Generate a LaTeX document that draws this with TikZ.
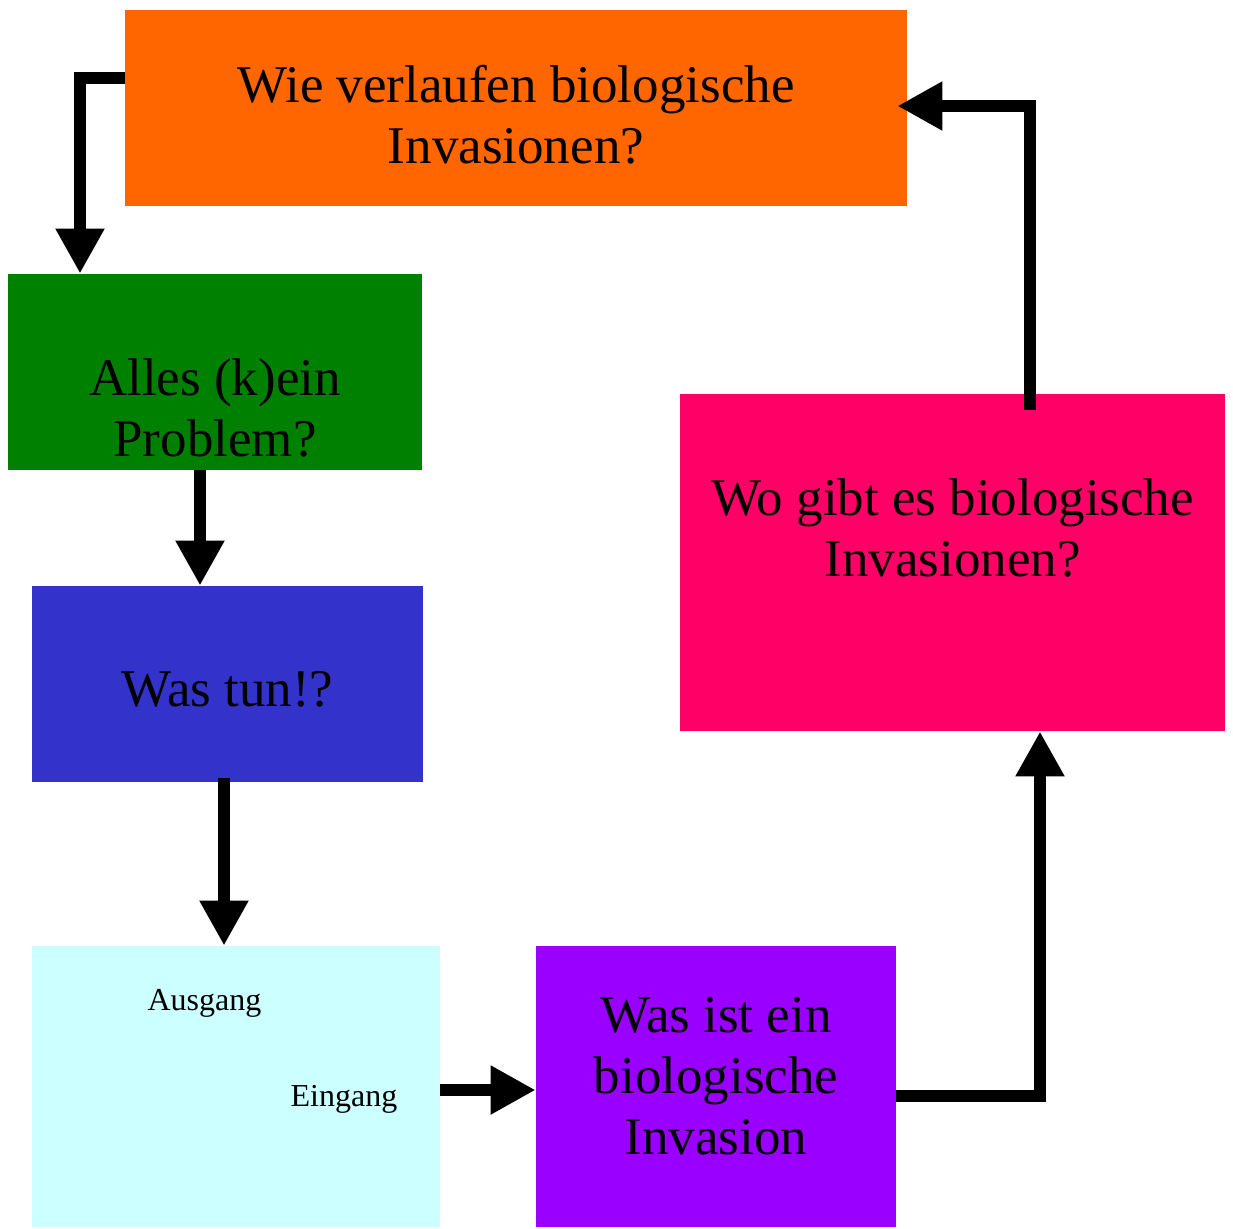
\documentclass[tikz,border=0pt]{standalone}
\usepackage{fontspec}
\setmainfont{Liberation Serif}
\usetikzlibrary{positioning,arrows.meta,calc}
\definecolor{orangeF}{HTML}{FF6600}
\definecolor{gruenF}{HTML}{008000}
\definecolor{blauF}{HTML}{3333CC}
\definecolor{cyanF}{HTML}{CCFFFF}
\definecolor{lilaF}{HTML}{9900FF}
\definecolor{rosaF}{HTML}{FF0066}
\begin{document}
\begin{tikzpicture}[x=0.5pt, y=-0.5pt, every node/.style={align=center, inner sep=0pt},
  kasten/.style={draw=none, minimum width=#1},
  haupt/.style={font=\fontsize{26.5}{30.5}\selectfont},
  klein/.style={font=\fontsize{16}{19}\selectfont},
  pfeil/.style={-{Triangle[length=22.5pt, width=23pt]}, line width=6pt}]
\useasboundingbox (0,0) rectangle (1233,1228);
\node[kasten=391pt, minimum height=98pt, fill=orangeF] (wie) at (516,108) {};
\node[kasten=207pt, minimum height=98pt, fill=gruenF] (alles) at (215,372) {};
\node[kasten=195.5pt, minimum height=98pt, fill=blauF] (tun) at (227.5,684) {};
\node[kasten=204pt, minimum height=140.5pt, fill=cyanF] (box) at (236,1086.5) {};
\node[kasten=180pt, minimum height=140.5pt, fill=lilaF] (was) at (716,1086.5) {};
\node[kasten=272.5pt, minimum height=168.5pt, fill=rosaF] (wo) at (952.5,562.5) {};
% Beschriftungen
\node[haupt] (wieT) at ($(wie)+(0,6.5)$) {Wie verlaufen biologische\\Invasionen?};
\node[haupt] (allesT) at ($(alles)+(0,35.5)$) {Alles (k)ein\\Problem?};
\node[haupt] (tunT) at ($(tun)+(0,5.5)$) {Was tun!?};
\node[haupt] (wasT) at ($(was)+(0,-10.5)$) {Was ist ein\\biologische\\Invasion};
\node[haupt] (woT) at ($(wo)+(0,-34.5)$) {Wo gibt es biologische\\Invasionen?};
\node[klein] (aus) at (204.5,1003) {Ausgang};
\node[klein] (ein) at (344,1099.5) {Eingang};
% Pfeile
\draw[pfeil] ($(wie.west)+(0,-30)$) -| ($(alles.north)+(-135,0)$);
\draw[pfeil] ($(alles.south)+(-15,0)$) -- ($(tun.north)+(-27.5,0)$);
\draw[pfeil] ($(tun.south)+(-3.5,-4)$) -- ($(box.north)+(-12,0)$);
\draw[pfeil] ($(box.east)+(0,3.5)$) -- ($(was.west)+(0,3.5)$);
\draw[pfeil] ($(was.east)+(0,9.5)$) -| ($(wo.south)+(87.5,0)$);
\draw[pfeil] ($(wo.north)+(77,16)$) |- ($(wie.east)+(-10,-2)$);
\end{tikzpicture}
\end{document}
